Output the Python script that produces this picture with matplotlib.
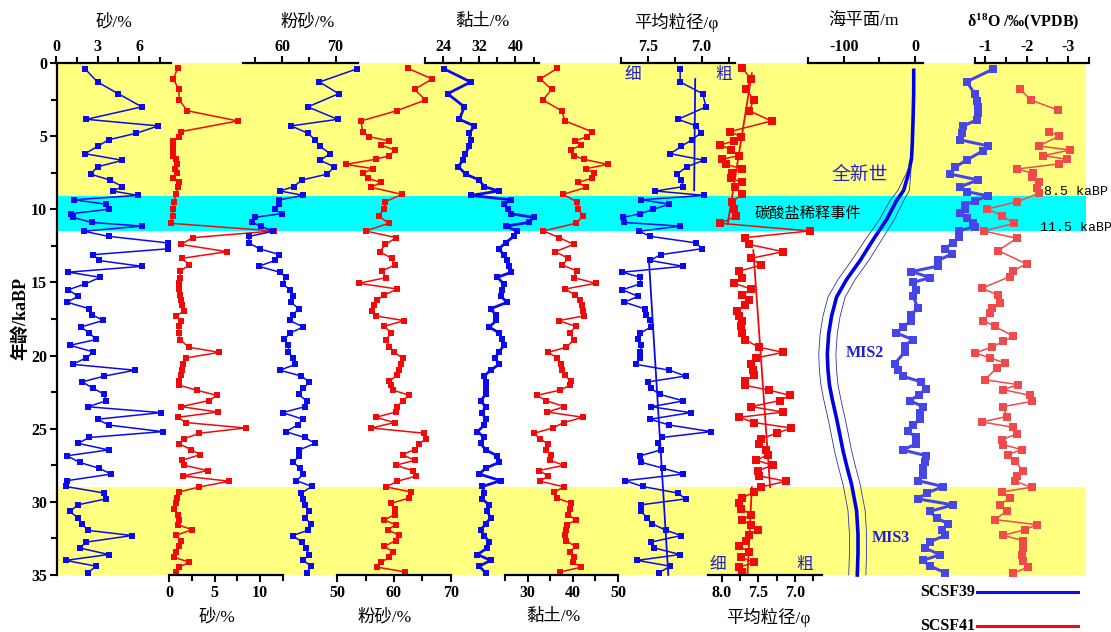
import numpy as np
import matplotlib
matplotlib.use("Agg")
import matplotlib.pyplot as plt
from matplotlib.lines import Line2D

plt.rcParams['font.family'] = ['Liberation Serif', 'Noto Sans CJK SC', 'DejaVu Sans']
plt.rcParams['mathtext.fontset'] = 'custom'
plt.rcParams['mathtext.rm'] = 'Liberation Serif:bold'
plt.rcParams['mathtext.it'] = 'Liberation Serif:bold'
plt.rcParams['mathtext.bf'] = 'Liberation Serif:bold'
plt.rcParams['axes.unicode_minus'] = False

# ---- SCSF39 (blue) grain-size record, age in ka BP ----
age39 = [0.4, 1.3, 2.1, 3.0, 3.85, 4.3, 4.8, 5.25, 5.7, 6.2,
         6.65, 7.1, 7.6, 8.0, 8.45, 8.75, 9.05, 9.35, 9.65, 10.0,
         10.3, 10.55, 10.9, 11.15, 11.5, 11.85, 12.3, 12.7, 13.1, 13.5,
         13.9, 14.3, 14.65, 15.1, 15.5, 15.95, 16.35, 16.8, 17.2, 17.6,
         18.05, 18.45, 18.9, 19.3, 19.75, 20.15, 20.6, 21.0, 21.4, 21.8,
         22.25, 22.65, 23.1, 23.5, 23.9, 24.35, 24.75, 25.2, 25.6, 26.0,
         26.45, 26.85, 27.3, 27.7, 28.1, 28.55, 28.95, 29.4, 29.8, 30.2,
         30.65, 31.1, 31.5, 31.95, 32.3, 32.75, 33.15, 33.6, 34.0, 34.4,
         34.85]
sand39 = [2.1, 3.0, 4.5, 6.2, 2.2, 7.4, 5.8, 3.8, 3.0, 2.1,
          4.8, 3.0, 2.5, 3.9, 4.8, 4.1, 5.9, 1.3, 3.6, 3.8,
          1.1, 1.2, 2.6, 6.2, 2.0, 3.8, 8.1, 8.1, 2.7, 3.1,
          6.2, 0.9, 3.2, 2.1, 0.9, 1.6, 0.8, 2.4, 2.6, 3.4,
          1.8, 2.4, 2.9, 1.0, 2.7, 2.2, 1.2, 5.7, 3.5, 1.9,
          2.7, 3.5, 3.6, 2.3, 7.6, 3.0, 3.8, 7.7, 2.4, 1.6,
          3.8, 0.8, 1.7, 3.1, 4.0, 0.8, 0.7, 3.5, 3.6, 1.6,
          1.0, 1.6, 1.9, 2.3, 5.5, 2.2, 1.7, 3.8, 0.7, 2.9,
          2.3]
silt39 = [74.0, 67.0, 70.6, 64.8, 70.4, 61.7, 64.8, 66.2, 67.1, 69.0,
          67.1, 69.8, 68.4, 63.7, 62.2, 59.6, 64.0, 59.5, 59.4, 58.6,
          59.9, 54.9, 54.4, 56.0, 58.4, 53.9, 53.8, 55.8, 59.5, 58.7,
          55.6, 59.6, 60.7, 60.1, 61.5, 62.0, 61.7, 63.1, 62.1, 61.4,
          64.0, 61.5, 60.4, 61.2, 61.2, 62.1, 62.5, 59.6, 63.6, 65.1,
          64.0, 63.1, 64.6, 64.2, 60.1, 63.9, 62.9, 60.7, 64.2, 66.2,
          63.2, 63.2, 62.1, 63.4, 64.0, 62.7, 65.6, 63.6, 64.0, 64.2,
          65.1, 64.2, 65.5, 64.8, 62.0, 63.7, 64.4, 65.0, 64.0, 65.4,
          64.6]
clay39 = [24.2, 30.1, 25.0, 28.7, 27.6, 30.9, 29.8, 30.1, 29.8, 28.9,
          28.3, 27.4, 29.0, 32.0, 33.1, 36.3, 30.1, 39.0, 37.5, 38.4,
          38.9, 44.0, 42.9, 37.8, 40.4, 39.6, 37.8, 36.3, 37.4, 38.2,
          38.5, 39.1, 36.0, 37.4, 37.1, 36.7, 38.2, 34.5, 35.6, 35.8,
          34.2, 36.4, 37.1, 37.4, 36.4, 35.5, 36.4, 34.5, 33.1, 33.4,
          33.4, 33.4, 32.3, 33.4, 32.6, 33.4, 33.1, 31.6, 33.1, 32.3,
          33.4, 36.0, 36.4, 33.4, 32.0, 36.7, 32.7, 33.1, 32.6, 34.2,
          33.8, 34.5, 33.4, 32.3, 33.1, 34.2, 33.8, 31.6, 34.5, 32.0,
          33.4]
mz39 = [7.20, 7.20, 6.99, 6.96, 7.22, 7.05, 7.01, 7.09, 7.19, 7.29,
        6.98, 7.14, 7.23, 7.19, 7.17, 7.43, 6.98, 7.56, 7.30, 7.45,
        7.57, 7.73, 7.72, 7.20, 7.58, 7.48, 7.05, 7.00, 7.38, 7.48,
        7.17, 7.74, 7.57, 7.57, 7.74, 7.59, 7.72, 7.53, 7.52, 7.48,
        7.47, 7.57, 7.59, 7.56, 7.57, 7.57, 7.61, 7.30, 7.15, 7.50,
        7.47, 7.39, 7.17, 7.47, 7.10, 7.48, 7.30, 6.91, 7.37, 7.41,
        7.38, 7.57, 7.56, 7.36, 7.17, 7.71, 7.55, 7.22, 7.15, 7.56,
        7.56, 7.51, 7.46, 7.33, 7.19, 7.47, 7.44, 7.20, 7.60, 7.29,
        7.40]
mz39_trend_a_age = [1.1, 8.7]
mz39_trend_a = [7.06, 7.07]
mz39_trend_b_age = [13.5, 35.0]
mz39_trend_b = [7.49, 7.31]

# ---- SCSF41 (red) grain-size record ----
age41 = [0.36, 1.09, 1.8, 2.53, 3.26, 3.96, 4.69, 5.04, 5.33, 5.6,
         5.95, 6.33, 6.58, 6.93, 7.22, 7.54, 7.88, 8.16, 8.5, 8.98,
         9.48, 9.98, 10.46, 10.96, 11.48, 11.94, 12.4, 12.9, 13.35, 13.81,
         14.22, 14.67, 15.06, 15.45, 15.86, 16.2, 16.54, 16.93, 17.29,
         17.61, 18.0, 18.46, 18.91, 19.43, 19.78, 20.16, 20.57, 20.96, 21.35,
         21.76, 22.03, 22.37, 22.72, 23.08, 23.49, 23.86, 24.22, 24.58, 24.95,
         25.31, 25.68, 26.04, 26.43, 26.77, 27.16, 27.5, 27.86, 28.23, 28.59,
         28.98, 29.32, 29.73, 30.1, 30.46, 30.87, 31.24, 31.56, 31.9, 32.29,
         32.65, 33.04, 33.42, 33.79, 34.13, 34.47, 34.79]
sand41 = [0.95, 0.48, 1.06, 1.14, 1.98, 7.55, 1.32, 1.06, 0.4, 0.4,
          0.4, 0.48, 0.77, 0.84, 0.7, 0.84, 0.4, 1.06, 0.95, 0.77,
          0.59, 0.48, 0.4, 0.22, 11.47, 2.6, 1.32, 6.37, 1.43, 2.23,
          1.21, 1.25, 1.06, 1.14, 1.21, 1.32, 1.43, 1.68, 0.77,
          1.32, 1.06, 1.06, 1.21, 2.16, 5.53, 1.87, 1.5, 1.43, 1.32,
          1.14, 1.14, 3.04, 5.27, 4.36, 1.32, 5.35, 0.95, 1.87, 8.39,
          3.33, 1.68, 1.14, 2.42, 3.41, 1.43, 1.68, 4.25, 1.5, 6.63,
          3.33, 1.14, 0.88, 0.77, 0.59, 0.95, 1.14, 0.95, 2.53, 0.77,
          1.32, 1.14, 0.77, 0.59, 2.23, 1.06, 0.77]
silt41 = [62.4, 66.7, 63.6, 65.5, 60.5, 54.2, 54.5, 55.7, 59.2, 57.7,
          60.1, 59.2, 56.8, 51.5, 56.3, 54.5, 55.4, 57.7, 56.0, 61.4,
          58.5, 58.3, 57.3, 59.1, 55.0, 60.4, 58.5, 57.5, 59.6, 60.1,
          57.9, 58.6, 53.8, 60.6, 58.3, 57.1, 56.5, 56.1, 56.8,
          61.8, 58.3, 59.5, 58.6, 59.2, 60.0, 61.5, 61.2, 60.9, 60.5,
          59.2, 59.5, 59.9, 62.7, 61.5, 60.6, 60.3, 56.8, 60.1, 56.0,
          65.3, 65.6, 64.4, 63.6, 61.5, 63.6, 60.3, 63.3, 63.9, 60.6,
          58.6, 63.0, 62.7, 59.5, 60.1, 60.1, 58.3, 60.3, 58.9, 60.9,
          60.3, 58.3, 59.8, 59.2, 57.7, 57.1, 62.0]
clay41 = [36.6, 32.8, 35.3, 33.4, 37.5, 38.3, 44.2, 43.2, 40.4, 41.9,
          39.5, 40.3, 42.4, 47.7, 43.0, 44.7, 44.2, 41.2, 43.0, 37.8,
          40.9, 41.2, 42.3, 40.7, 33.5, 37.0, 40.2, 36.1, 39.0, 37.7,
          40.9, 40.2, 45.1, 38.3, 40.5, 41.6, 42.1, 42.2, 42.4,
          36.9, 40.6, 39.4, 40.2, 38.6, 34.5, 36.6, 37.3, 37.7, 38.2,
          39.7, 39.4, 37.1, 32.0, 34.1, 38.1, 34.4, 42.3, 38.0, 35.6,
          31.4, 32.7, 34.5, 34.0, 35.1, 35.0, 38.0, 32.5, 34.6, 32.8,
          38.1, 35.9, 36.4, 39.7, 39.3, 39.0, 40.6, 38.8, 38.6, 38.3,
          38.4, 40.6, 39.4, 40.2, 40.1, 41.8, 37.2]
mz41 = [7.72, 7.60, 7.67, 7.56, 7.63, 7.32, 7.89, 7.74, 7.83, 8.02,
        7.87, 7.76, 8.00, 7.95, 7.72, 7.86, 7.87, 7.72, 7.82, 7.72,
        7.86, 7.83, 7.80, 8.02, 6.80, 7.69, 7.63, 7.16, 7.60, 7.46,
        7.76, 7.72, 7.83, 7.60, 7.72, 7.63, 7.69, 7.79, 7.76,
        7.72, 7.74, 7.72, 7.69, 7.49, 7.16, 7.53, 7.60, 7.58, 7.56,
        7.69, 7.69, 7.35, 7.07, 7.21, 7.60, 7.16, 7.76, 7.56, 7.05,
        7.25, 7.46, 7.49, 7.39, 7.37, 7.53, 7.30, 7.51, 7.49, 7.12,
        7.46, 7.56, 7.72, 7.76, 7.74, 7.60, 7.72, 7.60, 7.51, 7.63,
        7.67, 7.76, 7.63, 7.74, 7.56, 7.76, 7.72]
mz41_trend_a_age = [0.7, 11.0]
mz41_trend_a = [7.59, 7.92]
mz41_trend_b_age = [12.8, 29.0]
mz41_trend_b = [7.57, 7.34]
mz41_trend_c_age = [29.0, 35.0]
mz41_trend_c = [7.59, 7.65]

# ---- sea level (m) ----
sl_age = [0.5, 2, 4, 5.5, 6.5, 7.5, 8.7, 9.4, 10.7, 12.1, 13.5, 14.8, 16.0, 17.3,
          18.5, 19.9, 21, 22, 23, 24.3, 25.5, 26.5, 27.7, 28.8, 30.6, 32.2, 33.5, 35]
sl = [-2, -2, -3, -4, -5, -9, -16, -26, -40, -59, -77, -96, -110, -117,
      -121, -123, -122, -120, -116, -110, -105, -101, -95, -89, -82, -80, -80, -81]
sl_env_age = [7.0, 7.5, 8.7, 9.4, 10.7, 12.1, 13.5, 14.8, 16.0, 17.3, 18.5, 19.9,
              21, 22, 23, 24.3, 25.5, 26.5, 27.7, 28.8, 30.6, 32.2, 33.5, 35]
sl_lo = [-8, -12, -24, -35, -50, -70, -89, -108, -122, -129, -133, -135,
         -134, -132, -128, -122, -117, -113, -107, -101, -94, -92, -92, -93]
sl_hi = [-6, -6, -8, -16, -29, -47, -65, -84, -98, -105, -109, -111,
         -110, -108, -104, -98, -93, -89, -83, -77, -70, -68, -68, -69]

# ---- d18O ----
d18o39_age = [0.41, 1.28, 2.14, 2.57, 3.03, 3.44, 3.87, 4.31, 4.76, 5.26,
              5.67, 5.99, 6.63, 7.13, 7.59, 8.0, 8.45, 8.79, 9.09, 9.41,
              9.71, 10.0, 10.28, 10.62, 10.96, 11.19, 11.48, 11.87, 12.28, 12.69,
              13.06, 13.49, 13.88, 14.26, 14.67, 15.0, 15.52, 15.93, 16.77, 17.22,
              17.61, 18.05, 18.46, 18.91, 19.32, 19.75, 20.57, 20.96, 21.42, 21.8,
              22.26, 22.67, 23.08, 23.49, 23.92, 24.36, 24.77, 25.18, 25.59, 26.04,
              26.45, 26.84, 27.3, 27.71, 28.14, 28.55, 28.96, 29.39, 29.8, 30.21,
              30.65, 31.1, 31.51, 31.94, 32.29, 32.74, 33.15, 33.61, 34.0, 34.38, 34.84]
d18o39 = [-1.20, -0.56, -0.76, -0.81, -0.84, -0.84, -0.81, -0.48, -0.44, -0.41,
          -1.08, -0.96, -0.56, -0.28, -0.16, -0.84, -0.41, -0.56, -1.08, -0.76,
          -0.52, -0.52, -0.40, -0.56, -0.72, -0.76, -0.38, -0.38, -0.24, -0.04,
          -0.20, 0.12, 0.12, 0.77, 0.31, 0.73, 0.65, 0.73, 0.61, 0.79,
          0.77, 0.97, 1.13, 0.73, 0.93, 0.93, 1.17, 1.09, 0.97, 0.53,
          0.42, 0.58, 0.81, 0.49, 0.57, 0.57, 0.73, 0.85, 0.65, 0.65,
          0.98, 0.42, 0.45, 0.50, 0.50, 0.61, 0.0, 0.40, 0.61, -0.24,
          0.33, 0.16, -0.12, 0.04, -0.04, 0.33, 0.45, 0.08, 0.49, 0.33, -0.04]
d18o41_age = [1.8, 2.53, 3.21, np.nan, 4.69, 4.99, 5.67, 5.95, 6.33, 6.58,
              6.9, 7.25, 7.54, 7.81, 8.11, 8.57, 8.91, 9.48, 9.98, 10.46,
              10.96, 11.48, 11.98, 12.83, 13.74, 14.2, 14.6, 15.4, 15.86, 16.43,
              16.77, 17.11, 17.61, 18.0, 18.68, 19.02, 19.43, 19.82, 20.16, 20.51,
              20.85, 21.65, 21.99, 22.33, 22.72, 23.13, 23.49, 24.17, 24.54, 24.9,
              25.36, 25.75, 26.09, 26.43, 26.77, 27.23, 27.87, 28.25, 28.59, 29.0,
              29.32, 29.73, 30.19, 30.64, 31.21, 31.56, 31.9, 32.29, 32.65, 33.15,
              33.61, 34.06, 34.47, 34.86]
d18o41 = [-1.85, -2.1, -2.75, np.nan, -2.53, -2.79, -2.29, -3.05, -2.40, -2.97,
          -2.77, -1.76, -2.16, -2.12, -2.29, -2.25, -2.29, -1.78, -1.06, -1.42,
          -1.70, -0.97, -1.76, -1.32, -2.00, -1.67, -1.60, -0.92, -1.32, -1.36,
          -1.16, -1.12, -0.96, -1.24, -1.68, -1.44, -1.16, -0.76, -1.12, -1.48,
          -1.28, -1.0, -1.80, -1.44, -2.08, -2.12, -1.44, -1.52, -0.92, -1.68,
          -1.76, -1.40, -1.44, -1.88, -1.56, -1.72, -1.92, -1.76, -1.72, -2.12,
          -1.40, -1.60, -1.36, -1.52, -1.24, -2.25, -1.96, -1.44, -1.92, -1.92,
          -1.88, -1.92, -2.04, -1.68]

BLUE = '#0a0af0'
RED = '#f00a0a'
BLUE_O = '#4646e6'
RED_O = '#f04a4a'
LABEL_BLUE = '#2020d0'

W, H = 1111, 632
Y_TOP, Y_BOT = 63, 575
fig = plt.figure(figsize=(W / 100, H / 100), dpi=100)


def fx(px):
    return px / W


def fy(py):
    return 1 - py / H


# main frame: age axis and background bands
main = fig.add_axes([fx(57), fy(Y_BOT), fx(1086 - 57), (Y_BOT - Y_TOP) / H])
main.set_xlim(0, 1)
main.set_ylim(35, 0)
main.axhspan(0, 9.1, color='#ffff80', lw=0)
main.axhspan(9.1, 11.5, color='#00ffff', lw=0)
main.axhspan(29, 35, color='#ffff80', lw=0)
for s in ['top', 'right', 'bottom']:
    main.spines[s].set_visible(False)
main.spines['left'].set_linewidth(1.6)
main.set_xticks([])
main.set_yticks(range(0, 36, 5))
main.set_yticks(np.arange(2.5, 35, 5), minor=True)
main.tick_params(axis='y', which='both', direction='out', width=1.5, labelsize=11.5, pad=2)
main.tick_params(axis='y', which='major', length=5)
main.tick_params(axis='y', which='minor', length=4)
for lab in main.get_yticklabels():
    lab.set_fontweight('bold')


def track(px0, px1, lim, where, major, labels, minor):
    ax = fig.add_axes([fx(px0), fy(Y_BOT), fx(px1 - px0), (Y_BOT - Y_TOP) / H])
    ax.set_xlim(*lim)
    ax.set_ylim(35, 0)
    ax.patch.set_visible(False)
    for s in ax.spines:
        ax.spines[s].set_visible(s == where)
    ax.spines[where].set_linewidth(1.6)
    ax.set_yticks([])
    ax.xaxis.set_ticks_position(where)
    ax.set_xticks(major, labels=labels)
    ax.set_xticks(minor, minor=True)
    ax.tick_params(axis='x', which='both', direction='out', width=1.5,
                   labelsize=11.5, pad=1 if where == 'top' else 2)
    ax.tick_params(axis='x', which='major', length=5)
    ax.tick_params(axis='x', which='minor', length=4.5)
    for lab in ax.get_xticklabels():
        lab.set_fontweight('bold')
    return ax


def series(ax, x, y, color, lw=1.1, ms=4.3):
    ax.plot(x, y, '-s', color=color, lw=lw, ms=ms, mew=0, clip_on=False)


# sand
ax = track(56, 171, (0, 8.31), 'top', [0, 3, 6], ['0', '3', '6'], [1.5, 4.5, 7.5])
series(ax, sand39, age39, BLUE)
ax = track(169, 283, (0, 12.5), 'bottom', [0, 5, 10], ['0', '5', '10'], [2.5, 7.5, 12.5])
series(ax, sand41, age41, RED)

# silt
ax = track(243, 358, (52.7, 74.2), 'top', [60, 70], ['60', '70'], [55, 65])
series(ax, silt39, age39, BLUE)
ax = track(337, 451, (50, 70), 'bottom', [50, 60, 70], ['50', '60', '70'], [55, 65])
series(ax, silt41, age41, RED)

# clay
ax = track(425, 539, (20, 45.2), 'top', [24, 32, 40], ['24', '32', '40'], [20, 28, 36, 44])
series(ax, clay39, age39, BLUE, lw=2.0)
ax = track(505, 618, (25, 50), 'bottom', [30, 40, 50], ['30', '40', '50'], [25, 35, 45])
series(ax, clay41, age41, RED)

# mean grain size
ax = track(621, 735, (7.75, 6.69), 'top', [7.5, 7.0], ['7.5', '7.0'], [7.75, 7.25, 6.75])
series(ax, mz39, age39, BLUE)
ax.plot(mz39_trend_a, mz39_trend_a_age, color=BLUE, lw=1.3, clip_on=False)
ax.plot(mz39_trend_b, mz39_trend_b_age, color=BLUE, lw=1.3, clip_on=False)
ax = track(708, 822, (8.19, 6.63), 'bottom', [8.0, 7.5, 7.0], ['8.0', '7.5', '7.0'],
           [7.75, 7.25, 6.75])
series(ax, mz41, age41, RED, ms=5.2)
ax.plot(mz41_trend_a, mz41_trend_a_age, color=RED, lw=1.3, clip_on=False)
ax.plot(mz41_trend_b, mz41_trend_b_age, color=RED, lw=1.3, clip_on=False)
ax.plot(mz41_trend_c, mz41_trend_c_age, color=RED, lw=1.3, clip_on=False)

# sea level
ax = track(808, 923, (-150, 11), 'top', [-100, 0], ['-100', '0'], [-150, -50])
ax.plot(sl, sl_age, color='#0000e6', lw=2.6, clip_on=False)
ax.plot(sl_lo, sl_env_age, color='#3030b0', lw=0.6, clip_on=False)
ax.plot(sl_hi, sl_env_age, color='#3030b0', lw=0.6, clip_on=False)

# d18O
ax = track(975, 1089, (-0.76, -3.5), 'top', [-1, -2, -3], ['-1', '-2', '-3'],
           [-0.76, -1.5, -2.5, -3.5])
series(ax, d18o39, d18o39_age, BLUE_O, lw=2.2, ms=5.3)
series(ax, d18o41, d18o41_age, RED_O, lw=1.1, ms=5.3)

# axis titles
cjk = ['Liberation Serif', 'Noto Sans CJK SC', 'DejaVu Sans']
tops = [(114, '砂/%'), (308, '粉砂/%'), (482, '黏土/%'), (676, '平均粒径/φ'), (863, '海平面/m')]
for x, t in tops:
    fig.text(fx(x), fy(22), t, ha='center', va='center', fontsize=12.5, family=cjk)
fig.text(fx(1023), fy(22), 'δ$^{18}$O /‰(VPDB)', ha='center', va='center',
         fontsize=11.5, fontweight='bold')
bottoms = [(217, '砂/%'), (385, '粉砂/%'), (553, '黏土/%'), (768, '平均粒径/φ')]
for x, t in bottoms:
    fig.text(fx(x), fy(617), t, ha='center', va='center', fontsize=12.5, family=cjk)
fig.text(fx(20), fy(318), '年龄/kaBP', rotation=90, ha='center', va='center',
         fontsize=13, fontweight='bold')

# annotations
fig.text(fx(633), fy(75), '细', color=LABEL_BLUE, fontsize=12, ha='center', va='center')
fig.text(fx(724), fy(75), '粗', color=LABEL_BLUE, fontsize=12, ha='center', va='center')
fig.text(fx(718), fy(565), '细', color=LABEL_BLUE, fontsize=12, ha='center', va='center')
fig.text(fx(805), fy(565), '粗', color=LABEL_BLUE, fontsize=12, ha='center', va='center')
fig.text(fx(860), fy(175), '全新世', color=LABEL_BLUE, fontsize=13.5, ha='center', va='center')
fig.text(fx(808), fy(214), '碳酸盐稀释事件', color='black', fontsize=11,
         ha='center', va='center')
fig.text(fx(1044), fy(192), '8.5 kaBP', family='Liberation Mono', fontsize=9.5,
         ha='left', va='center')
fig.text(fx(1040), fy(228), '11.5 kaBP', family='Liberation Mono', fontsize=9.5,
         ha='left', va='center')
fig.text(fx(865), fy(353), 'MIS2', color=LABEL_BLUE, fontsize=11.5, fontweight='bold',
         ha='center', va='center')
fig.text(fx(891), fy(538), 'MIS3', color=LABEL_BLUE, fontsize=11.5, fontweight='bold',
         ha='center', va='center')

# legend
for y, name, c in [(592, 'SCSF39', BLUE), (626, 'SCSF41', RED)]:
    fig.text(fx(975), fy(y), name, ha='right', va='center', fontsize=11.5, fontweight='bold')
    fig.add_artist(Line2D([fx(977), fx(1078)], [fy(y), fy(y)], color=c, lw=2.2,
                          transform=fig.transFigure))

fig.savefig('out.png', dpi=100)
